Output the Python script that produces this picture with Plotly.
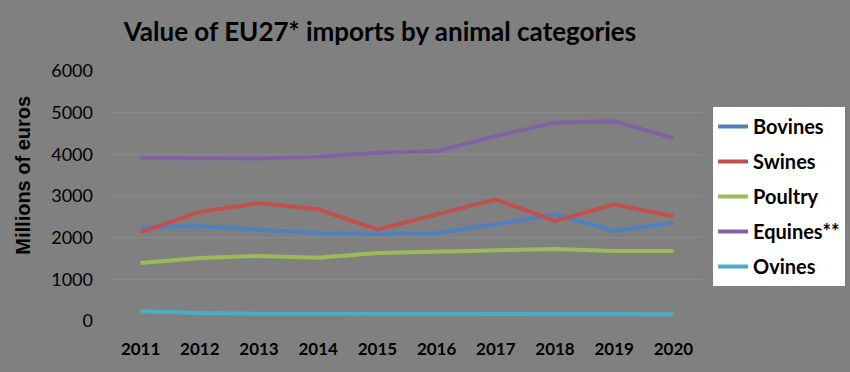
import plotly.graph_objects as go

years = ["2011", "2012", "2013", "2014", "2015", "2016", "2017", "2018", "2019", "2020"]
bovines = [2256, 2272, 2192, 2112, 2096, 2112, 2320, 2560, 2160, 2360]
swines = [2130, 2617, 2832, 2680, 2200, 2560, 2920, 2400, 2800, 2512]
poultry = [1392, 1512, 1560, 1520, 1632, 1656, 1689, 1728, 1680, 1680]
equines = [3912, 3912, 3900, 3945, 4040, 4073, 4440, 4760, 4792, 4393]
ovines = [233, 192, 176, 176, 160, 152, 160, 168, 160, 160]

series = [
    ("Bovines", bovines, "#4F81BD"),
    ("Swines", swines, "#C0504D"),
    ("Poultry", poultry, "#9BBB59"),
    ("Equines**", equines, "#8064A2"),
    ("Ovines", ovines, "#4BACC6"),
]

fig = go.Figure()
for i, (name, vals, col) in enumerate(series):
    fig.add_trace(go.Scatter(
        x=years, y=vals, name=name, mode="lines",
        line=dict(color=col, width=4), legendgroup=f"g{i}",
    ))

fig.update_layout(
    width=850, height=372,
    paper_bgcolor="#808080", plot_bgcolor="#808080",
    margin=dict(l=111, r=147, t=71, b=51, autoexpand=False),
    title=dict(text="<b>Value of EU27* imports by animal categories</b>",
               x=0.447, xanchor="center", y=0.915, yanchor="middle",
               font=dict(family="Lato", size=26, color="#000000")),
    showlegend=True,
    legend=dict(x=1.017, xanchor="left", y=0.856, yanchor="top",
                bgcolor="#FFFFFF", borderwidth=0,
                font=dict(family="Lato", size=20, color="#000000", weight="bold"),
                tracegroupgap=6, itemwidth=30),
    xaxis=dict(type="category", range=[-0.5, 9.5], showgrid=False, zeroline=False,
               showline=False, ticks="", ticklabelstandoff=16,
               tickfont=dict(family="Lato", size=17, color="#000000", weight="bold")),
    yaxis=dict(range=[0, 6000], dtick=1000, showgrid=True, gridcolor="#8A8A8A",
               gridwidth=1, zeroline=False, showline=False, ticks="",
               ticklabelstandoff=17,
               tickfont=dict(family="Lato", size=18, color="#000000")),
    annotations=[dict(text="<b>Millions of euros</b>", textangle=-90,
                      xref="paper", yref="paper", x=-0.150, y=0.582,
                      xanchor="center", yanchor="middle", showarrow=False,
                      font=dict(family="Liberation Sans", size=20, color="#000000"))],
)

fig.write_html("out.html", config={"displayModeBar": False},
               post_script="document.body.style.margin='0';")
